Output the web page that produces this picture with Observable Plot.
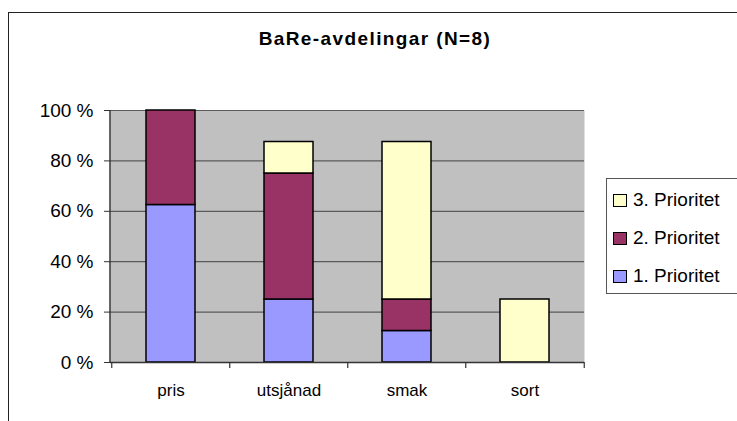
<!DOCTYPE html>
<html>
<head>
<meta charset="utf-8">
<script src="https://cdn.jsdelivr.net/npm/d3@7"></script>
<script src="https://cdn.jsdelivr.net/npm/@observablehq/plot@0.6"></script>
<style>
  html, body { margin: 0; padding: 0; background: #fff; }
  #wrap { position: relative; width: 737px; height: 421px; overflow: hidden; font-family: "Liberation Sans", Arial, sans-serif; }
  #border { position: absolute; left: 8px; top: 12px; width: 800px; height: 500px; border-left: 1.5px solid #222; border-top: 1.5px solid #222; box-sizing: border-box; }
  #title { position: absolute; left: 175px; width: 400px; top: 28px; text-align: center; font-weight: bold; font-size: 19px; letter-spacing: 1.4px; color: #000; white-space: nowrap; }
  #legend { position: absolute; left: 606px; top: 178px; width: 160px; height: 116px; border: 1px solid #555; background: #fff; box-sizing: border-box; }
  .item { position: absolute; left: 6px; font-size: 19px; line-height: 19px; color: #000; white-space: nowrap; }
  .sw { display: inline-block; width: 12px; height: 11px; border: 1.5px solid #000; margin-right: 6px; vertical-align: -1px; }
  #chart { position: absolute; left: 0; top: 0; }
</style>
</head>
<body>
<div id="wrap">
  <div id="border"></div>
  <div id="chart"></div>
  <div id="title">BaRe-avdelingar (N=8)</div>
  <div id="legend"></div>
</div>
<script>
const categories = ["pris", "utsjånad", "smak", "sort"];
const seriesNames = ["1. Prioritet", "2. Prioritet", "3. Prioritet"];
const prio1 = [62.5, 25, 12.5, 0];
const prio2 = [37.5, 50, 12.5, 0];
const prio3 = [0, 12.5, 62.5, 25];
const seriesColors = ["#9999FF", "#993366", "#FFFFCC"];
const yTicks = [0, 20, 40, 60, 80, 100];

const seriesValues = [prio1, prio2, prio3];
const data = [];
seriesNames.forEach((s, si) => {
  categories.forEach((c, ci) => {
    data.push({category: c, series: s, value: seriesValues[si][ci]});
  });
});

const W = 737, H = 421;
const mL = 110, mR = 153, mT = 110, mB = 59;
const step = (W - mL - mR) / categories.length;

const plot = Plot.plot({
  width: W,
  height: H,
  marginLeft: mL,
  marginRight: mR,
  marginTop: mT,
  marginBottom: mB,
  style: {fontFamily: "'Liberation Sans', Arial, sans-serif", background: "transparent", overflow: "visible"},
  x: {domain: categories, paddingInner: 0.586, paddingOuter: 0.293, label: null},
  y: {domain: [0, 100], label: null},
  color: {domain: seriesNames, range: seriesColors},
  marks: [
    Plot.frame({fill: "#C0C0C0", stroke: null}),
    Plot.gridY(yTicks, {stroke: "#5a5a5a", strokeOpacity: 1, strokeWidth: 1.2}),
    Plot.barY(data, Plot.stackY({x: "category", y: "value", fill: "series", stroke: "#000", strokeWidth: 1.5, order: seriesNames})),
    Plot.axisY({ticks: yTicks, tickFormat: d => d + " %", tickSize: 6, tickPadding: 11, fontSize: 19, stroke: "#333", fill: "#000"}),
    Plot.ruleY([0], {stroke: "#333", strokeWidth: 1.5}),
    Plot.axisX({tickSize: 0, tickPadding: 21, fontSize: 17, fill: "#000"}),
    Plot.tickX(categories, {x: d => d, dx: -step / 2, stroke: "#333", strokeWidth: 1.2}),
    Plot.tickX([categories[categories.length - 1]], {x: d => d, dx: step / 2, stroke: "#333", strokeWidth: 1.2})
  ]
});

document.getElementById("chart").appendChild(plot);

// make the category-boundary ticks short marks below the axis
const svg = d3.select(plot);
svg.selectAll("[aria-label='tick'] line").each(function() {
  d3.select(this).attr("y1", H - mB).attr("y2", H - mB + 6);
});
svg.append("line").attr("x1", mL).attr("x2", mL).attr("y1", mT).attr("y2", H - mB).attr("stroke", "#333").attr("stroke-width", 1.5);

// Legend (reverse order like reference)
const legend = document.getElementById("legend");
const order = [2, 1, 0];
order.forEach((si, i) => {
  const d = document.createElement("div");
  d.className = "item";
  d.style.top = (11 + i * 38) + "px";
  d.innerHTML = `<span class="sw" style="background:${seriesColors[si]}"></span>${seriesNames[si]}`;
  legend.appendChild(d);
});
</script>
</body>
</html>
